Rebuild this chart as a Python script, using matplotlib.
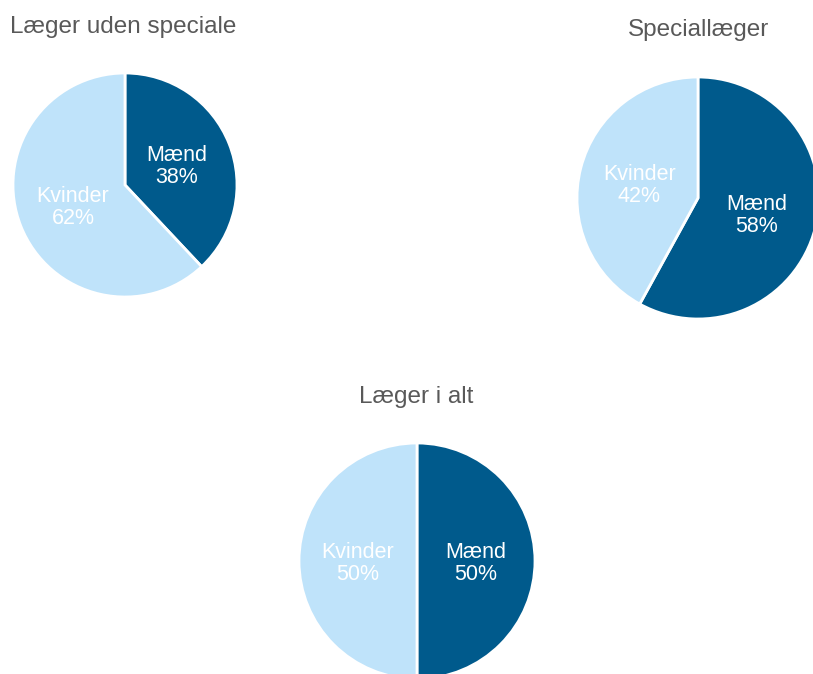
import matplotlib.pyplot as plt
import numpy as np

plt.rcParams['font.family'] = ['Liberation Sans', 'DejaVu Sans']

# Data
titles = ['Læger uden speciale', 'Speciallæger', 'Læger i alt']
groups = ['Mænd', 'Kvinder']
maend = [38, 58, 50]
kvinder = [62, 42, 50]

colors = ['#005A8C', '#BFE3FA']
W, H = 813, 674

# pie centres / radii in pixels (from top-left)
layout = [(125, 185, 112), (698, 198, 121), (417, 561, 118)]
title_pos = [(10, 27, 'left'), (699, 30, 'center'), (416, 397, 'center')]

fig = plt.figure(figsize=(W / 100, H / 100), dpi=100)

for i in range(3):
    cx, cy, r = layout[i]
    ax = fig.add_axes([(cx - r) / W, (H - cy - r) / H, 2 * r / W, 2 * r / H])
    wedges, _ = ax.pie([maend[i], kvinder[i]], colors=colors, startangle=90, counterclock=False,
                       radius=1, wedgeprops=dict(edgecolor='white', linewidth=2))
    ax.set_xlim(-1, 1)
    ax.set_ylim(-1, 1)
    ax.set_aspect('equal')
    ax.axis('off')
    vals = [maend[i], kvinder[i]]
    for j, w in enumerate(wedges):
        ang = np.deg2rad((w.theta1 + w.theta2) / 2)
        x = 0.5 * np.cos(ang)
        y = 0.5 * np.sin(ang) - 0.02
        ax.text(x, y, f'{groups[j]}\n{vals[j]}%', ha='center', va='center', color='white',
                fontsize=15.5, linespacing=1.08)
    tx, ty, ha = title_pos[i]
    fig.text(tx / W, 1 - ty / H, titles[i], ha=ha, va='center', fontsize=17.5, color='#595959')

fig.savefig('out.png', dpi=100, facecolor='white')
